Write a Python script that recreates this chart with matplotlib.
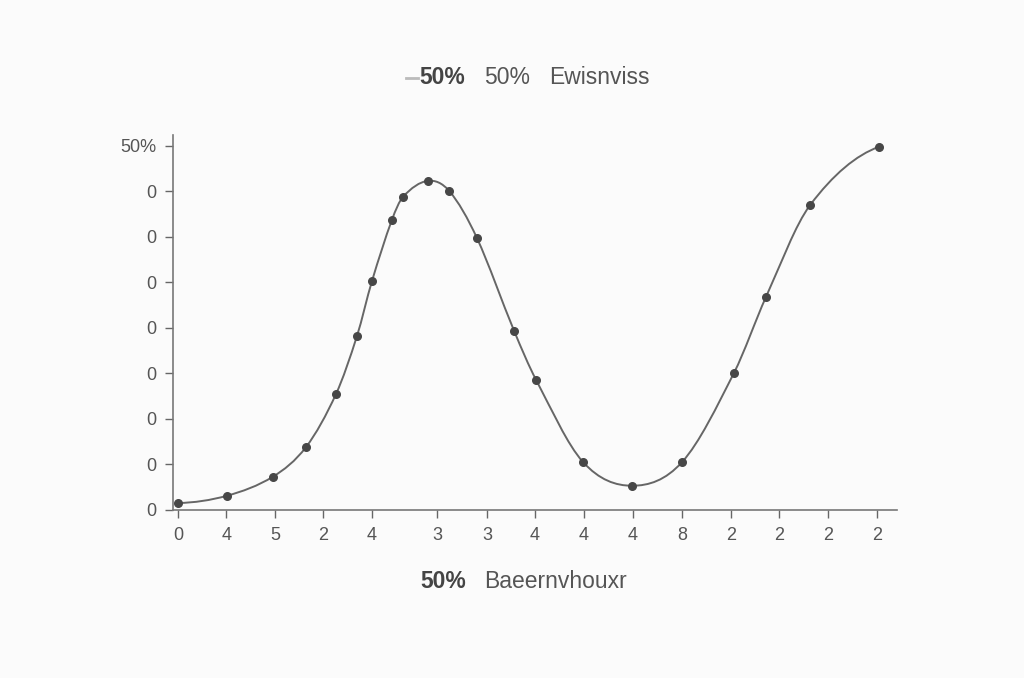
import matplotlib
matplotlib.use("Agg")
import matplotlib.pyplot as plt
from matplotlib.lines import Line2D
from matplotlib.path import Path
from matplotlib.patches import PathPatch

plt.rcParams['font.family'] = ['Liberation Sans', 'DejaVu Sans']

# data
x_vals = [0, 1.01, 1.96, 2.64, 3.26, 3.69, 4.0, 4.41, 4.64, 5.15, 5.59, 6.16,
          6.93, 7.38, 8.35, 9.36, 10.39, 11.46, 12.12, 13.03, 14.45]
y_vals = [0.15, 0.31, 0.73, 1.38, 2.55, 3.82, 5.03, 6.37, 6.88, 7.23, 7.01, 5.98,
          3.93, 2.86, 1.05, 0.53, 1.05, 3.01, 4.68, 6.70, 7.98]
x_ticks = [0, 1, 2, 3, 4, 5.34, 6.37, 7.36, 8.37, 9.38, 10.39, 11.40, 12.39, 13.40, 14.41]
x_labels = ['0', '4', '5', '2', '4', '3', '3', '4', '4', '4', '8', '2', '2', '2', '2']
y_ticks = [0, 1, 2, 3, 4, 5, 6, 7, 8]
y_labels = ['0', '0', '0', '0', '0', '0', '0', '0', '50%']

txt = '#555555'
fig = plt.figure(figsize=(10.24, 6.78), dpi=100, facecolor='#fbfbfb')
ax = fig.add_axes([0.169, 0.248, 0.707, 0.553])
ax.set_facecolor('#fbfbfb')

# smooth line through the points: bezier segments with slopes from neighbours
n = len(x_vals)
slopes = []
for i in range(1, n - 1):
    slopes.append((y_vals[i + 1] - y_vals[i - 1]) / (x_vals[i + 1] - x_vals[i - 1]))
first = (y_vals[1] - y_vals[0]) / (x_vals[1] - x_vals[0])
last = (y_vals[-1] - y_vals[-2]) / (x_vals[-1] - x_vals[-2])
slopes = [2 * first - slopes[0]] + slopes + [2 * last - slopes[-1]]

verts = [(x_vals[0], y_vals[0])]
codes = [Path.MOVETO]
for i in range(n - 1):
    h = x_vals[i + 1] - x_vals[i]
    verts.append((x_vals[i] + h / 3, y_vals[i] + slopes[i] * h / 3))
    verts.append((x_vals[i + 1] - h / 3, y_vals[i + 1] - slopes[i + 1] * h / 3))
    verts.append((x_vals[i + 1], y_vals[i + 1]))
    codes += [Path.CURVE4] * 3
ax.add_patch(PathPatch(Path(verts, codes), facecolor='none', edgecolor='#666666', lw=1.4, zorder=2))
ax.scatter(x_vals, y_vals, color='#474747', s=30, zorder=3)

ax.set_xlim(-0.1, 14.82)
ax.set_ylim(0, 8.24)
ax.set_xticks(x_ticks)
ax.set_xticklabels(x_labels)
ax.set_yticks(y_ticks)
ax.set_yticklabels(y_labels)
ax.tick_params(colors='#666666', labelcolor=txt, labelsize=13, length=6, width=1, pad=6)
for s in ['top', 'right']:
    ax.spines[s].set_visible(False)
for s in ['left', 'bottom']:
    ax.spines[s].set_color('#777777')
    ax.spines[s].set_linewidth(1.2)

# title row
fig.add_artist(Line2D([406 / 1024, 418 / 1024], [1 - 78 / 678] * 2, color='#bbbbbb', lw=2))
fig.text(419 / 1024, 1 - 78 / 678, '50%', fontsize=16.5, fontweight='bold', color='#444444', va='center')
fig.text(484 / 1024, 1 - 78 / 678, '50%', fontsize=16.5, color=txt, va='center')
fig.text(549 / 1024, 1 - 78 / 678, 'Ewisnviss', fontsize=16.5, color=txt, va='center')

# x label row
fig.text(420 / 1024, 1 - 582 / 678, '50%', fontsize=16.5, fontweight='bold', color='#444444', va='center')
fig.text(484 / 1024, 1 - 582 / 678, 'Baeernvhouxr', fontsize=16.5, color=txt, va='center')

fig.savefig('out.png', dpi=100, facecolor=fig.get_facecolor())
